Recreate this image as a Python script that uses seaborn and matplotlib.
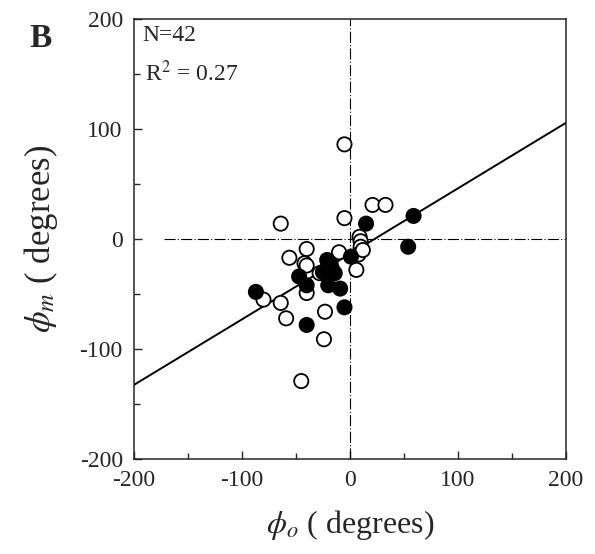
import matplotlib
matplotlib.use("Agg")
import matplotlib.pyplot as plt
import seaborn as sns
import pandas as pd
import numpy as np
from matplotlib.ticker import MultipleLocator

# ---- data ----
open_x = [-5, -5, -64, 21, 33, 9, 10, 10, 8, 6, -10, -40, -56, -42, -40, -28, -40, -80, -64, -59, -23, -24, -45, -25, 12, -22]
open_y = [86, 19, 14, 31, 31, 2, -2, -7, -14, -28, -12, -9, -17, -22, -24, -31, -49, -55, -58, -72, -66, -91, -129, -30, -10, -28]
filled_x = [15, 59, 54, 1, -21, -18, -14, -24, -47, -40, -20, -9, -5, -87, -40, -17]
filled_y = [14, 21, -7, -16, -19, -22, -31, -30, -34, -42, -42, -45, -62, -48, -78, -26]
fit_slope = 0.595
fit_intercept = -13.5
x_ticks = [-200, -100, 0, 100, 200]
y_ticks = [-200, -100, 0, 100, 200]
n_label = "N=42"
r2_label = "R$^2$ = 0.27"

df = pd.DataFrame({
    "x": open_x + filled_x,
    "y": open_y + filled_y,
    "kind": ["open"] * len(open_x) + ["filled"] * len(filled_x),
})

sns.set_style("ticks")
plt.rcParams["font.family"] = ["Liberation Serif", "DejaVu Serif"]
plt.rcParams["mathtext.fontset"] = "stix"

fig = plt.figure(figsize=(5.95, 5.54), dpi=100)
ax = fig.add_axes([0.225, 0.171, 0.726, 0.795])

# reference lines
ax.axvline(0, color="black", lw=0.8, ls=(0, (10, 2, 1, 2)), zorder=1)
ax.axhline(0, xmin=0.07, xmax=1.0, color="black", lw=0.8, ls=(0, (10, 2, 1, 2)), zorder=1)

# regression line
lx = np.array([-200, 200])
sns.lineplot(x=lx, y=fit_slope * lx + fit_intercept, color="black", lw=1.4, ax=ax, zorder=2)

sns.scatterplot(data=df, x="x", y="y", hue="kind",
                palette={"open": "white", "filled": "black"},
                edgecolor="black", linewidth=1.3, s=105, legend=False, ax=ax, zorder=3)

ax.set_xlim(-200, 200)
ax.set_ylim(-200, 200)
ax.set_xticks(x_ticks)
ax.set_yticks(y_ticks)
ax.set_xticklabels([str(v) for v in x_ticks])
ax.set_yticklabels([str(v) for v in y_ticks])
ax.xaxis.set_minor_locator(MultipleLocator(50))
ax.yaxis.set_minor_locator(MultipleLocator(50))
ax.tick_params(axis="both", which="major", direction="in", length=6, width=1, labelsize=17, pad=8)
ax.tick_params(axis="both", which="minor", direction="in", length=4, width=1)
ax.tick_params(top=False, right=False, which="both")
for sp in ax.spines.values():
    sp.set_linewidth(1.1)

ax.set_xlabel("$\\phi_o$ ( degrees)", fontsize=23, labelpad=12)
ax.set_ylabel("$\\phi_m$ ( degrees)", fontsize=25, labelpad=14)

ax.text(0.02, 0.985, n_label, transform=ax.transAxes, fontsize=17, va="top", ha="left")
ax.text(0.025, 0.905, r2_label, transform=ax.transAxes, fontsize=17, va="top", ha="left")
fig.text(0.05, 0.93, "B", fontsize=24, fontweight="bold", va="center", ha="left")

fig.savefig("out.png", dpi=100)
